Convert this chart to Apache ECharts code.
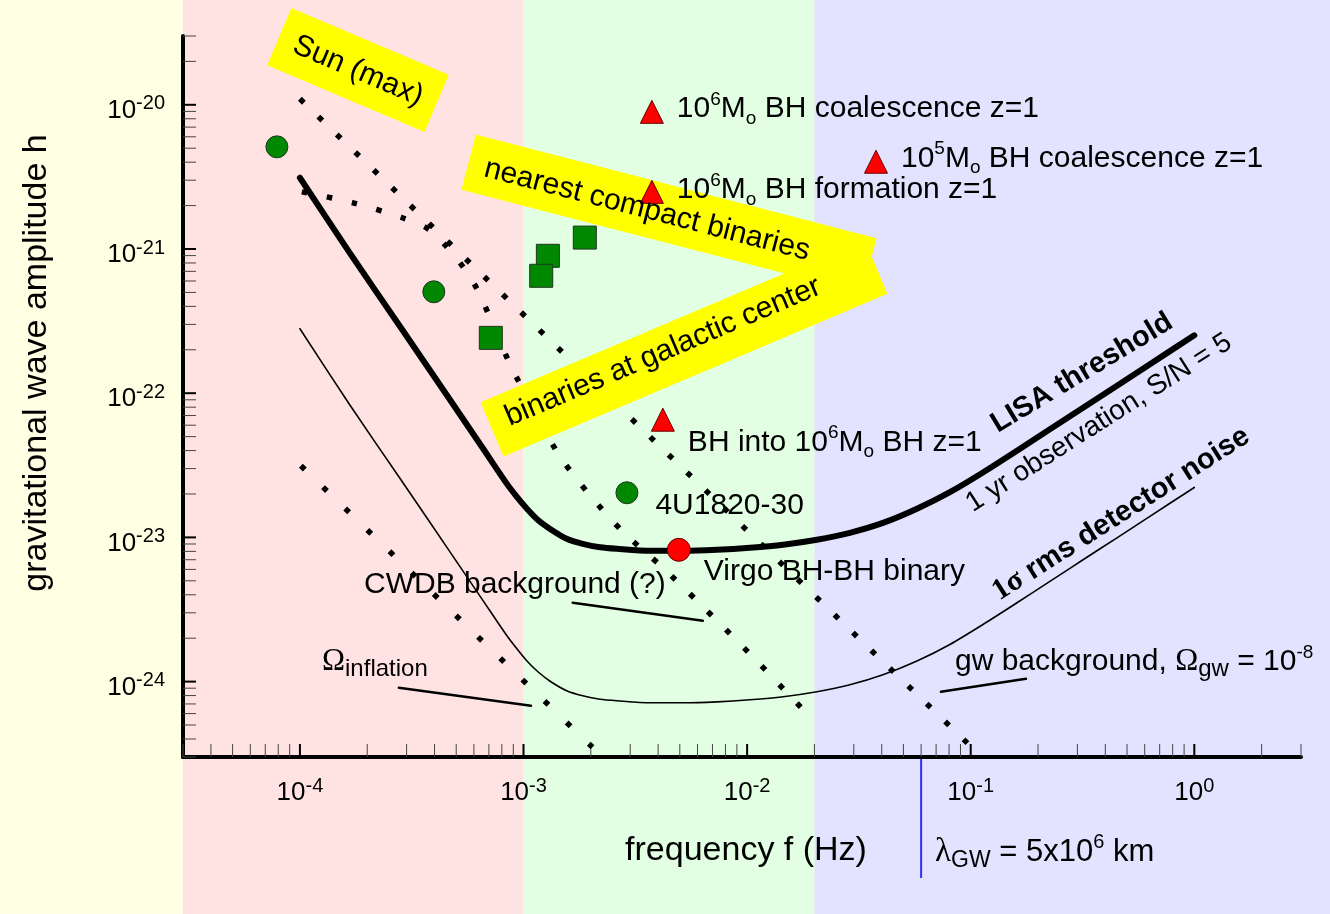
<!DOCTYPE html>
<html><head><meta charset="utf-8">
<script src="https://cdn.jsdelivr.net/npm/echarts@6/dist/echarts.min.js"></script>
<style>html,body{margin:0;padding:0;background:#ffffe3}#c{width:1330px;height:914px}</style>
</head><body><div id="c"></div>
<script>
// ---------------- data (frequency Hz, strain h) ----------------
const xMin = 3e-5, xMax = 3, yMin = 3e-25, yMax = 3e-20;
const xDecades = [-4, -3, -2, -1, 0];
const yDecades = [-24, -23, -22, -21, -20];
const bandEdges = [1e-3, 0.02];
const lambdaFreq = 0.06;

const lisaThreshold = [[1.0e-4,3.12e-21],[1.67e-4,9.41e-22],[2.80e-4,2.91e-22],[4.69e-4,9.0e-23],[6.58e-4,4.15e-23],[8.43e-4,2.35e-23],[9.34e-4,1.91e-23],[1.036e-3,1.58e-23],[1.16e-3,1.32e-23],[1.31e-3,1.15e-23],[1.56e-3,9.78e-24],[1.84e-3,9.03e-24],[2.20e-3,8.54e-24],[2.62e-3,8.33e-24],[3.68e-3,8.07e-24],[5.16e-3,8.07e-24],[7.33e-3,8.2e-24],[1.03e-2,8.47e-24],[1.45e-2,8.89e-24],[2.05e-2,9.62e-24],[2.88e-2,1.076e-23],[4.05e-2,1.26e-23],[5.75e-2,1.58e-23],[8.07e-2,2.06e-23],[0.113,2.81e-23],[0.161,3.99e-23],[0.226,5.62e-23],[0.318,7.92e-23],[0.451,1.125e-22],[0.633,1.59e-22],[1.0,2.52e-22]];
const rmsNoise = [[1.0e-4,2.80e-22],[1.67e-4,8.31e-23],[2.80e-4,2.57e-23],[4.69e-4,7.94e-24],[6.58e-4,3.66e-24],[8.43e-4,2.08e-24],[9.34e-4,1.69e-24],[1.036e-3,1.39e-24],[1.16e-3,1.17e-24],[1.31e-3,1.01e-24],[1.56e-3,8.64e-25],[1.84e-3,7.97e-25],[2.20e-3,7.54e-25],[2.62e-3,7.36e-25],[3.68e-3,7.13e-25],[5.16e-3,7.13e-25],[7.33e-3,7.24e-25],[1.03e-2,7.48e-25],[1.45e-2,7.85e-25],[2.05e-2,8.5e-25],[2.88e-2,9.5e-25],[4.05e-2,1.115e-24],[5.75e-2,1.39e-24],[8.07e-2,1.81e-24],[0.113,2.48e-24],[0.161,3.52e-24],[0.226,4.95e-24],[0.318,7.0e-24],[0.451,9.93e-24],[0.633,1.40e-23],[1.0,2.22e-23]];
const sunMaxLine = [[1.0e-4,1.1e-20],[9.665e-2,3.745e-25]];
const binariesLine = [[1.02e-4,2.49e-21],[1.73e-4,2.09e-21],[2.89e-4,1.64e-21],[3.74e-4,1.38e-21],[4.54e-4,1.035e-21],[5.36e-4,7.53e-22],[6.19e-4,5.30e-22],[6.93e-4,3.61e-22],[8.51e-4,1.71e-22],[9.53e-4,1.20e-22],[1.41e-3,3.93e-23],[1.94e-3,2.04e-23],[2.79e-3,1.09e-23],[4.16e-3,6.25e-24],[6.15e-3,3.47e-24],[1.09e-2,1.42e-24],[1.97e-2,5.4e-25]];
const inflationLine = [[1.01e-4,3.14e-23],[2.034e-3,3.50e-25]];

const cwdbLeader = [[1.66e-3,3.52e-24],[6.34e-3,2.64e-24]];
const inflationLeader = [[2.77e-4,9.06e-25],[1.08e-3,6.79e-25]];
const gwLeader = [[7.36e-2,8.49e-25],[0.1766,1.045e-24]];

const greenCircles = [[7.89e-5,5.11e-21],[3.97e-4,5.05e-22],[2.90e-3,2.04e-23]];
const greenSquares = [[7.14e-4,2.42e-22],[1.285e-3,8.97e-22],[1.20e-3,6.52e-22],[1.88e-3,1.20e-21]];
const redTriangles = [[3.75e-3,8.94e-21],[3.75e-3,2.49e-21],[3.77e-2,4.03e-21],[4.20e-3,6.55e-23]];
const redCircles = [[4.95e-3,8.2e-24]];

const triangleLabels = ['{n|10}{sp|6}{n|M}{sb|o}{n| BH coalescence z=1}','{n|10}{sp|6}{n|M}{sb|o}{n| BH formation z=1}','{n|10}{sp|5}{n|M}{sb|o}{n| BH coalescence z=1}','{n|BH into 10}{sp|6}{n|M}{sb|o}{n| BH z=1}'];
const greenCircleLabels = ['', '', '{n|4U1820-30}'];
const redCircleLabels = ['{n|Virgo BH-BH binary}'];

// ---------------- layout / style ----------------
const F = '"Liberation Sans", Arial, Helvetica, sans-serif';
const FS = '"Liberation Serif", "Times New Roman", serif';
const bandColors = ['#ffe3e3', '#e3ffe3', '#e3e3ff'];
const triOffsets = [[0,-3],[0,-2],[0,-3],[0,23]];
const gcOffsets = [[0,0],[0,0],[0,13]];
const rcOffsets = [[0,22]];

const labelRich = {
  n: {fontSize: 30, fontFamily: F, color: '#000', lineHeight: 38},
  sp: {fontSize: 19, fontFamily: F, color: '#000', verticalAlign: 'top', lineHeight: 20},
  sb: {fontSize: 19, fontFamily: F, color: '#000', verticalAlign: 'bottom', lineHeight: 20},
  g: {fontSize: 31, fontFamily: FS, color: '#000', lineHeight: 38},
  sb2: {fontSize: 24, fontFamily: F, color: '#000', verticalAlign: 'bottom', lineHeight: 24}
};
const tickRich = {
  b: {fontSize: 26, fontFamily: F, color: '#000', lineHeight: 34},
  s: {fontSize: 20, fontFamily: F, color: '#000', verticalAlign: 'top', lineHeight: 20}
};
function decadeLabel(v) {
  const e = Math.log10(v), r = Math.round(e);
  if (Math.abs(e - r) > 1e-6) return '';
  return '{b|10}{s|' + r + '}';
}

// ---------- axis ticks (log minor ticks) ----------
const tickData = [];
for (let d = -5; d <= 0; d++) for (let m = 1; m <= 9; m++) {
  const v = m * Math.pow(10, d);
  if (v >= xMin * 0.99999 && v <= xMax * 1.00001) tickData.push([v, yMin, 0, m === 1 ? 1 : 0]);
}
for (let d = -25; d <= -20; d++) for (let m = 1; m <= 9; m++) {
  const v = m * Math.pow(10, d);
  if (v >= yMin * 0.99999 && v <= yMax * 1.00001) tickData.push([xMin, v, 1, m === 1 ? 1 : 0]);
}
function renderTick(params, api) {
  const p = api.coord([api.value(0), api.value(1)]);
  const isY = api.value(2), major = api.value(3), L = 13;
  const shape = isY ? {x1: p[0], y1: p[1], x2: p[0] + L, y2: p[1]} : {x1: p[0], y1: p[1], x2: p[0], y2: p[1] - L};
  return {type: 'line', shape, style: {stroke: major ? '#000' : '#444', lineWidth: major ? 2 : 1}};
}

function pts(arr, labels, offsets) {
  return arr.map((v, i) => ({value: v, label: {show: !!(labels && labels[i]), formatter: labels ? labels[i] : '', offset: offsets ? offsets[i] : [0, 0]}}));
}
function dotted(data, gap, smooth) {
  return {type: 'line', data, symbol: 'none', smooth: smooth || false, z: 2, silent: true,
    lineStyle: {color: '#000', width: 5.5, type: [5.5, gap], cap: 'butt'}};
}
function solid(data, w, smooth) {
  return {type: 'line', data, symbol: 'none', smooth: smooth || false, z: 3, silent: true,
    lineStyle: {color: '#000', width: w, cap: 'round', join: 'round'}};
}
const scatterLabel = {position: 'right', distance: 13, rich: labelRich, color: '#000', opacity: 1};
const mk = (color, border) => ({color, borderColor: border, borderWidth: 1, opacity: 1});

const chart = echarts.init(document.getElementById('c'), null, {renderer: 'canvas'});
const option = {
  animation: false,
  backgroundColor: 'transparent',
  grid: {left: 183, right: 29, top: 36, bottom: 157},
  xAxis: {type: 'log', logBase: 10, min: xMin, max: xMax,
    axisLine: {onZero: false, lineStyle: {color: '#000', width: 4}},
    axisTick: {show: false}, minorTick: {show: false}, splitLine: {show: false},
    axisLabel: {formatter: decadeLabel, margin: 19, rich: tickRich, showMinLabel: false, showMaxLabel: false}},
  yAxis: {type: 'log', logBase: 10, min: yMin, max: yMax,
    axisLine: {onZero: false, lineStyle: {color: '#000', width: 4}},
    axisTick: {show: false}, minorTick: {show: false}, splitLine: {show: false},
    axisLabel: {formatter: decadeLabel, margin: 18, rich: tickRich, padding: [12, 0, 0, 0], showMinLabel: false, showMaxLabel: false}},
  series: [
    {type: 'custom', coordinateSystem: 'cartesian2d', data: tickData, renderItem: renderTick, z: 1, silent: true, clip: false},
    dotted(sunMaxLine, 20.12),
    dotted(binariesLine, 20, 0.3),
    dotted(inflationLine, 25.29),
    solid(rmsNoise, 1.6, 0.25),
    solid(lisaThreshold, 6, 0.25),
    solid(cwdbLeader, 2.5),
    solid(inflationLeader, 2.5),
    solid(gwLeader, 2.5),
    {type: 'scatter', data: pts(greenSquares), symbol: 'rect', symbolSize: 23, z: 6, itemStyle: mk('#008800', '#223322')},
    {type: 'scatter', data: pts(greenCircles, greenCircleLabels, gcOffsets), symbol: 'circle', symbolSize: 22, z: 6,
      itemStyle: mk('#008800', '#223322'), label: Object.assign({}, scatterLabel, {distance: 17})},
    {type: 'scatter', data: pts(redTriangles, triangleLabels, triOffsets), symbol: 'triangle', symbolSize: 23, z: 6,
      itemStyle: mk('#ff0000', '#660000'), label: Object.assign({}, scatterLabel, {distance: 13})},
    {type: 'scatter', data: pts(redCircles, redCircleLabels, rcOffsets), symbol: 'circle', symbolSize: 23, z: 6,
      itemStyle: mk('#ff0000', '#660000'), label: Object.assign({}, scatterLabel, {distance: 13})}
  ]
};
chart.setOption(option);

// ---------- decorations positioned with the axes ----------
const px = v => chart.convertToPixel({xAxisIndex: 0}, v);
const py = v => chart.convertToPixel({yAxisIndex: 0}, v);
const W = 1330, H = 914;
const xa = px(xMin), xb = px(bandEdges[0]), xc = px(bandEdges[1]), xl = px(lambdaFreq), yBottom = py(yMin);
const deg = Math.PI / 180;

function txt(x, y, text, style, rot, extra) {
  return Object.assign({type: 'text', x, y, rotation: (rot || 0) * deg, z: 7, silent: true,
    style: Object.assign({text, textAlign: 'left', textVerticalAlign: 'middle', fill: '#000', fontSize: 30, fontFamily: F, rich: labelRich}, style || {})}, extra || {});
}
function ybox(cx, cy, w, h, rot) {
  return {type: 'rect', x: cx, y: cy, rotation: rot * deg, z: 4, silent: true,
    shape: {x: -w / 2, y: -h / 2, width: w, height: h}, style: {fill: '#ffff00'}};
}
const boldRich = {
  b: {fontSize: 29, fontWeight: 'bold', fontFamily: F, color: '#000'},
  bs: {fontSize: 30, fontWeight: 'bold', fontFamily: FS, color: '#000'}
};
const blueRich = {
  ln: {fontSize: 31, fontFamily: F, color: '#2020ff', lineHeight: 40},
  lg: {fontSize: 33, fontFamily: FS, color: '#2020ff', lineHeight: 40},
  lsb: {fontSize: 23, fontFamily: F, color: '#2020ff', verticalAlign: 'bottom', lineHeight: 23},
  lsp: {fontSize: 20, fontFamily: F, color: '#2020ff', verticalAlign: 'top', lineHeight: 20}
};

const graphics = [
  {type: 'rect', z: -10, silent: true, shape: {x: xa, y: 0, width: xb - xa, height: H}, style: {fill: bandColors[0]}},
  {type: 'rect', z: -10, silent: true, shape: {x: xb, y: 0, width: xc - xb, height: H}, style: {fill: bandColors[1]}},
  {type: 'rect', z: -10, silent: true, shape: {x: xc, y: 0, width: W - xc, height: H}, style: {fill: bandColors[2]}},
  {type: 'line', z: 5, silent: true, shape: {x1: xl, y1: yBottom + 2, x2: xl, y2: 878}, style: {stroke: '#3030ff', lineWidth: 2}},
  // yellow boxes
  ybox(358, 70, 171, 62, -23),
  ybox(669, 214, 414, 57, -14.5),
  ybox(684, 348, 417, 59, 23),
  txt(358, 71, 'Sun (max)', {textAlign: 'center', fontSize: 30}, -23),
  txt(647, 210, 'nearest compact binaries', {textAlign: 'center', fontSize: 30}, -14.5),
  txt(663, 352, 'binaries at galactic center', {textAlign: 'center', fontSize: 30}, 23),
  // annotations
  txt(364, 585, '{n|CWDB background (?)}'),
  txt(322, 662, '{g|Ω}{sb2|inflation}'),
  txt(955, 662, '{n|gw background, }{g|Ω}{sb2|gw}{n| = 10}{sp|-8}'),
  txt(1082, 373, '{b|LISA threshold}', {textAlign: 'center', rich: boldRich}, 31),
  txt(1099, 423, '1 yr observation, S/N = 5', {textAlign: 'center', fontSize: 28}, 32.5),
  txt(1121, 514, '{bs|1σ}{b| rms detector noise}', {textAlign: 'center', rich: boldRich}, 32.5),
  txt(935, 852, '{lg|λ}{lsb|GW}{ln| = 5x10}{lsp|6}{ln| km}', {rich: blueRich}),
  // axis titles
  txt(746, 851, 'frequency f (Hz)', {textAlign: 'center', fontSize: 34}),
  txt(37, 363, 'gravitational wave amplitude h', {textAlign: 'center', fontSize: 34}, 90)
];
chart.setOption({graphic: {elements: graphics}});
</script>
</body></html>
